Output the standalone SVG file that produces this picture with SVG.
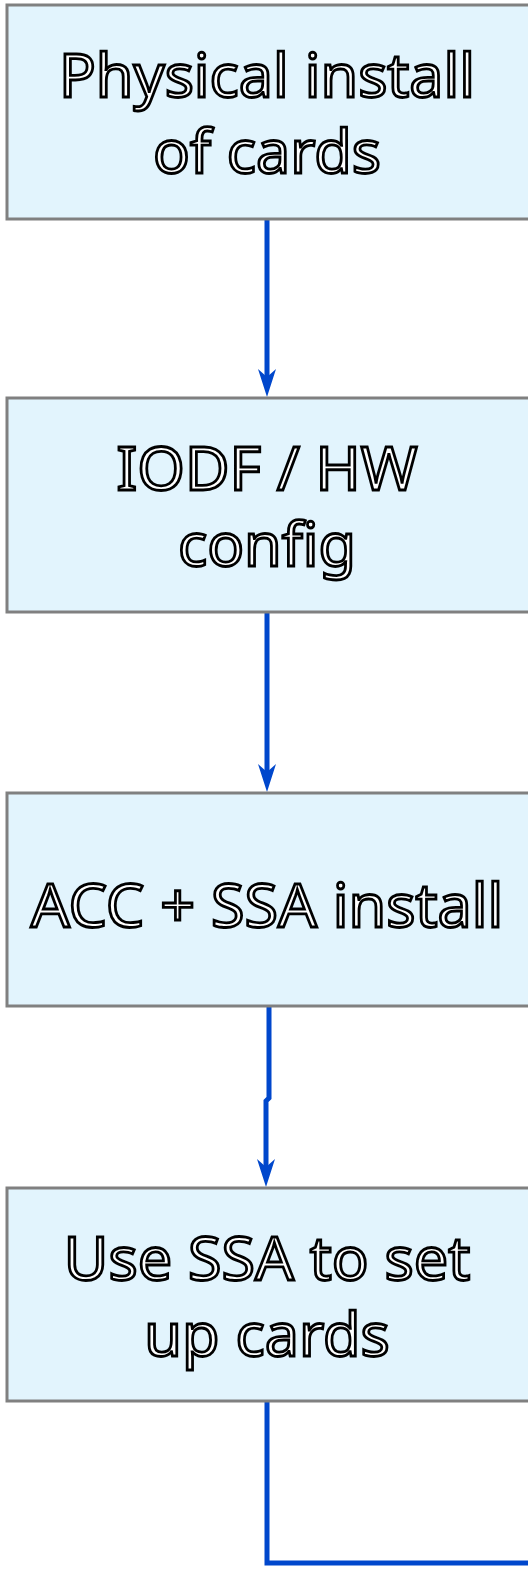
<svg xmlns="http://www.w3.org/2000/svg" width="528" height="1573" viewBox="0 0 528 1573">
<style>
.box{fill:#e2f4fd;stroke:#808080;stroke-width:3}
.t{font-family:"Noto Sans",sans-serif;font-size:61px;fill:#fff;stroke:#000;stroke-width:2.8;text-anchor:middle}
.c{fill:none;stroke:#0047cc;stroke-width:5}
</style>
<defs>
<marker id="ah" markerUnits="userSpaceOnUse" markerWidth="30" markerHeight="20" refX="16" refY="10" orient="auto" viewBox="0 0 30 20">
<path d="M0,1 L28,10 L0,19 L8,10 Z" fill="#0047cc"/>
</marker>
</defs>
<g id="connectors">
<path class="c" d="M267,219 V385" marker-end="url(#ah)"/>
<path class="c" d="M267,612 V780" marker-end="url(#ah)"/>
<path class="c" d="M269,1006 V1098 L266,1101 V1175" marker-end="url(#ah)"/>
<path class="c" d="M267,1401 V1563 H530"/>
</g>
<g id="n1"><rect class="box" x="7" y="5" width="530" height="214"/><text class="t" x="267" y="97">Physical install</text><text class="t" x="267" y="173">of cards</text></g>
<g id="n2"><rect class="box" x="7" y="398" width="530" height="214"/><text class="t" x="267" y="490">IODF / HW</text><text class="t" x="267" y="566">config</text></g>
<g id="n3"><rect class="box" x="7" y="793" width="530" height="213"/><text class="t" x="267" y="927">ACC + SSA install</text></g>
<g id="n4"><rect class="box" x="7" y="1188" width="530" height="213"/><text class="t" x="267" y="1280">Use SSA to set</text><text class="t" x="267" y="1356">up cards</text></g>
</svg>
